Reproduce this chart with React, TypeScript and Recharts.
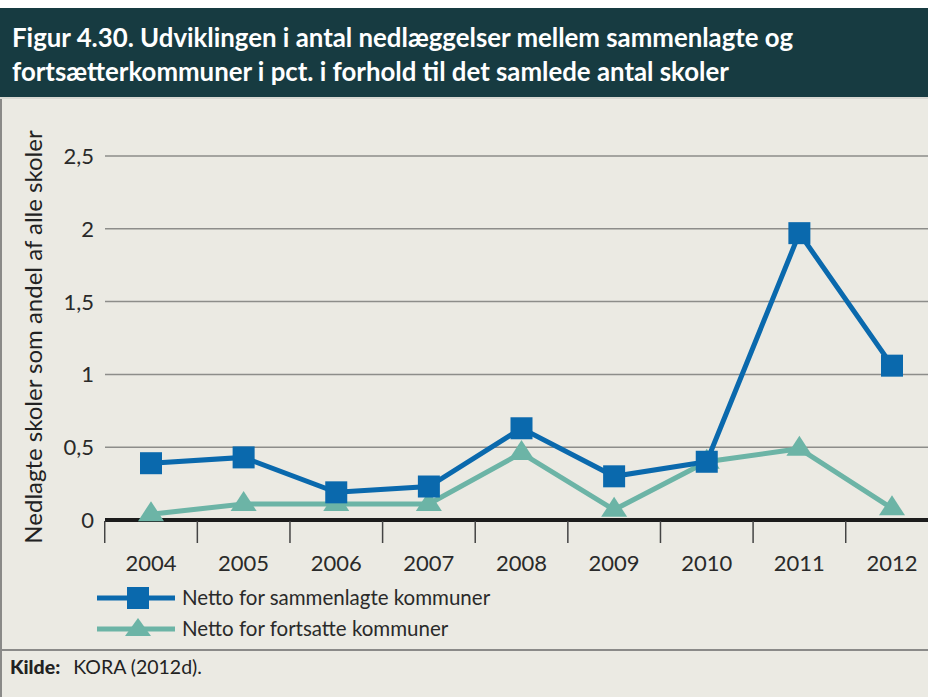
import React from 'react';
import { LineChart, Line, XAxis, YAxis, CartesianGrid, Legend } from 'recharts';

const years = ['2004', '2005', '2006', '2007', '2008', '2009', '2010', '2011', '2012'];
const sammenlagte = [0.39, 0.43, 0.19, 0.23, 0.63, 0.3, 0.4, 1.97, 1.06];
const fortsatte = [0.04, 0.11, 0.11, 0.11, 0.46, 0.07, 0.4, 0.49, 0.08];
const yTicks = [0, 0.5, 1, 1.5, 2, 2.5];
const seriesNames = ['Netto for sammenlagte kommuner', 'Netto for fortsatte kommuner'];
const titleLines = [
  'Figur 4.30. Udviklingen i antal nedlæggelser mellem sammenlagte og',
  'fortsætterkommuner i pct. i forhold til det samlede antal skoler',
];
const yLabel = 'Nedlagte skoler som andel af alle skoler';

const BLUE = '#0a69ad';
const TEAL = '#6cb4a6';
const BG = '#ebeae3';
const HEADER = '#173b41';
const FONT = 'Lato, "Open Sans", sans-serif';

const data = years.map((y, i) => ({ year: y, s: sammenlagte[i], f: fortsatte[i] }));

const Square = (props: any) => {
  const { cx, cy } = props;
  if (cx == null || cy == null) return null;
  return <rect x={cx - 11} y={cy - 11} width={22} height={22} fill={BLUE} />;
};

const Triangle = (props: any) => {
  const { cx, cy } = props;
  if (cx == null || cy == null) return null;
  return <polygon points={`${cx},${cy - 13} ${cx - 13},${cy + 7} ${cx + 13},${cy + 7}`} fill={TEAL} />;
};

const XTick = (props: any) => {
  const { x, y, payload, width, visibleTicksCount } = props;
  const half = width / visibleTicksCount / 2;
  return (
    <g>
      <line x1={x - half} x2={x - half} y1={y - 7} y2={y + 15} stroke="#444" strokeWidth={1.5} />
      <text x={x} y={y + 43} textAnchor="middle" fontSize={22} fill="#2a2a2a" fontFamily={FONT}>
        {payload.value}
      </text>
    </g>
  );
};

const YTick = (props: any) => {
  const { x, y, payload } = props;
  return (
    <text x={x + 2} y={y + 8} textAnchor="end" fontSize={22} fill="#2a2a2a" fontFamily={FONT}>
      {String(payload.value).replace('.', ',')}
    </text>
  );
};

const LegendContent = () => (
  <svg width={440} height={66}>
    <line x1={0} x2={78} y1={13} y2={13} stroke={BLUE} strokeWidth={5} />
    <rect x={30} y={2} width={22} height={22} fill={BLUE} />
    <text x={85} y={20} fontSize={20.5} fill="#2a2a2a" fontFamily={FONT}>{seriesNames[0]}</text>
    <line x1={0} x2={78} y1={44} y2={44} stroke={TEAL} strokeWidth={5} />
    <polygon points="41,33 28,51 54,51" fill={TEAL} />
    <text x={85} y={51} fontSize={20.5} fill="#2a2a2a" fontFamily={FONT}>{seriesNames[1]}</text>
  </svg>
);

export default function App() {
  return (
    <div style={{ position: 'absolute', left: 0, top: 0, width: 928, height: 697, overflow: 'hidden', background: '#fff', fontFamily: FONT }}>
      <div style={{ position: 'absolute', left: 0, top: 8, width: 928, height: 689, background: BG }} />
      <div style={{ position: 'absolute', left: 0, top: 97, width: 2, height: 600, background: '#8a8a88' }} />
      <div style={{ position: 'absolute', left: 0, top: 8, width: 928, height: 89, background: HEADER }}>
        {titleLines.map((t, i) => (
          <div key={i} style={{ position: 'absolute', left: 12, top: 13 + i * 34, color: '#fff', fontWeight: 700, fontSize: 25.8, whiteSpace: 'nowrap', lineHeight: '32px' }}>
            {t}
          </div>
        ))}
      </div>
      <div style={{ position: 'absolute', left: 0, top: 97, width: 928, height: 2, background: '#d8d8d2' }} />
      <div style={{ position: 'absolute', left: 0, top: 0 }}>
        <LineChart width={938} height={697} data={data} margin={{ top: 156, right: 0, bottom: 137, left: 10 }}>
          <CartesianGrid horizontal vertical={false} stroke="#8d8d8a" strokeWidth={1.5} />
          <XAxis
            dataKey="year"
            height={40}
            padding={{ left: 46, right: 46 }}
            axisLine={{ stroke: '#1c1c1c', strokeWidth: 4 }}
            tickLine={false}
            tick={<XTick />}
            interval={0}
          />
          <YAxis
            width={95}
            domain={[0, 2.5]}
            ticks={yTicks}
            axisLine={false}
            tickLine={false}
            tick={<YTick />}
            tickMargin={7}
          />
          <Legend
            layout="vertical"
            verticalAlign="middle"
            align="center"
            content={<LegendContent />}
            wrapperStyle={{ left: 97, top: 585, width: 440, height: 66 }}
          />
          <Line dataKey="f" name={seriesNames[1]} stroke={TEAL} strokeWidth={5} dot={<Triangle />} isAnimationActive={false} />
          <Line dataKey="s" name={seriesNames[0]} stroke={BLUE} strokeWidth={5} dot={<Square />} isAnimationActive={false} />
        </LineChart>
      </div>
      <div style={{ position: 'absolute', left: 2, top: 649, width: 926, height: 2, background: '#8a8a88' }} />
      <div style={{ position: 'absolute', left: 10, top: 655, fontSize: 19.5, color: '#222', whiteSpace: 'nowrap' }}>
        <span style={{ fontWeight: 900 }}>Kilde:</span>
        <span style={{ marginLeft: 13 }}>KORA (2012d).</span>
      </div>
      <div style={{ position: 'absolute', left: 32, top: 337, transform: 'translate(-50%, -50%) rotate(-90deg)', fontSize: 24, color: '#222', whiteSpace: 'nowrap' }}>
        {yLabel}
      </div>
    </div>
  );
}
